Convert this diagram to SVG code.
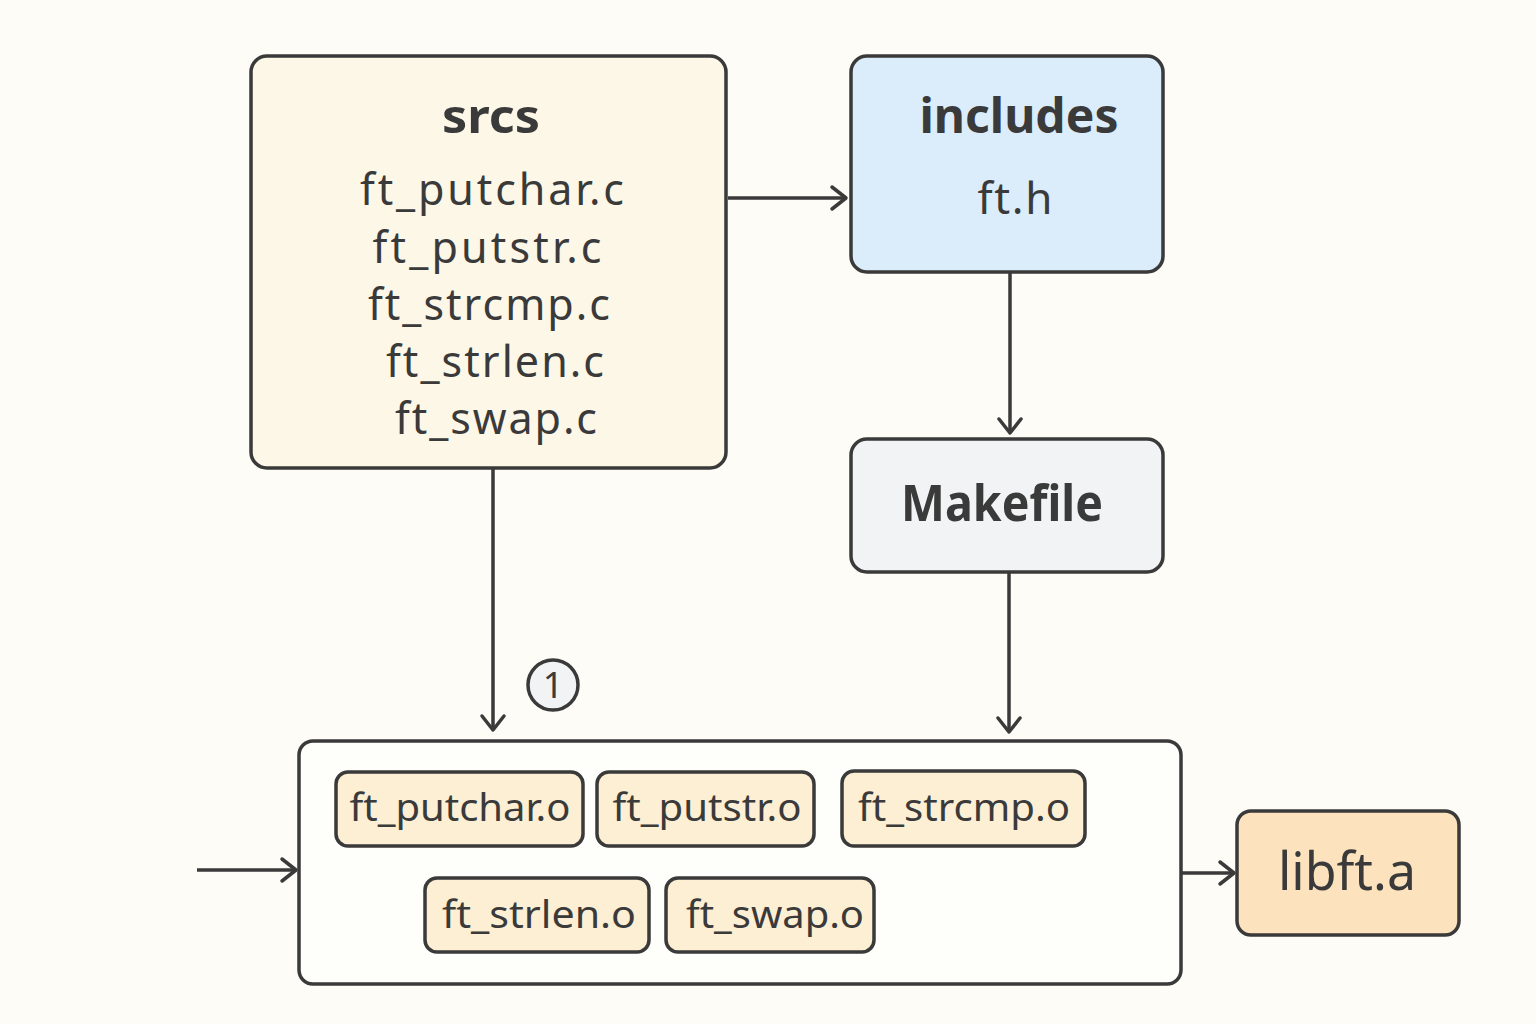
<svg xmlns="http://www.w3.org/2000/svg" width="1536" height="1024" viewBox="0 0 1536 1024">
<style>
.box{stroke:#3a3a3a;stroke-width:3.5}
.t{font-family:"Noto Sans","DejaVu Sans",sans-serif;fill:#3a3a3a;text-anchor:middle}
.b{font-weight:bold}
.c{fill:none;stroke:#3a3a3a;stroke-width:3.5}
</style>
<defs>
<marker id="ah" viewBox="0 0 22 28" refX="19" refY="14" markerWidth="22" markerHeight="28" markerUnits="userSpaceOnUse" orient="auto">
<path d="M5,3 L19,14 L5,25" fill="none" stroke="#3a3a3a" stroke-width="3.5" stroke-linecap="round" stroke-linejoin="round"/>
</marker>
</defs>
<rect width="1536" height="1024" fill="#fdfcf6"/>
<g id="connectors">
<line class="c" x1="728" y1="198" x2="846" y2="198" marker-end="url(#ah)"/>
<line class="c" x1="1010" y1="273" x2="1010" y2="433" marker-end="url(#ah)"/>
<line class="c" x1="493" y1="469" x2="493" y2="730" marker-end="url(#ah)"/>
<line class="c" x1="1009" y1="573" x2="1009" y2="732" marker-end="url(#ah)"/>
<line class="c" x1="197" y1="870" x2="296" y2="870" marker-end="url(#ah)"/>
<line class="c" x1="1182" y1="873" x2="1234" y2="873" marker-end="url(#ah)"/>
</g>
<g id="srcs">
<rect class="box" x="251" y="56" width="475" height="412" rx="16" fill="#fdf7e8"/>
<text class="t b" x="491" y="133" font-size="46" textLength="98" lengthAdjust="spacingAndGlyphs">srcs</text>
<text class="t" x="492" y="205" font-size="43" textLength="264" lengthAdjust="spacing">ft_putchar.c</text>
<text class="t" x="487" y="263" font-size="43" textLength="229" lengthAdjust="spacing">ft_putstr.c</text>
<text class="t" x="489" y="320" font-size="43" textLength="242" lengthAdjust="spacing">ft_strcmp.c</text>
<text class="t" x="495" y="377" font-size="43" textLength="218" lengthAdjust="spacing">ft_strlen.c</text>
<text class="t" x="496" y="434" font-size="43" textLength="202" lengthAdjust="spacing">ft_swap.c</text>
</g>
<g id="includes">
<rect class="box" x="851" y="56" width="312" height="216" rx="16" fill="#dbecfb"/>
<text class="t b" x="1019" y="133" font-size="48" textLength="199" lengthAdjust="spacingAndGlyphs">includes</text>
<text class="t" x="1015" y="214" font-size="44" textLength="75" lengthAdjust="spacing">ft.h</text>
</g>
<g id="makefile">
<rect class="box" x="851" y="439" width="312" height="133" rx="16" fill="#f1f3f4"/>
<text class="t b" x="1002" y="521" font-size="50" textLength="202" lengthAdjust="spacingAndGlyphs">Makefile</text>
</g>
<g id="objects">
<rect class="box" x="299" y="741" width="882" height="243" rx="14" fill="#fefefa"/>
</g>
<g id="o1"><rect class="box" x="336" y="772" width="247" height="74" rx="12" fill="#fdefd3"/><text class="t" x="460" y="821" font-size="38" textLength="221" lengthAdjust="spacingAndGlyphs">ft_putchar.o</text></g>
<g id="o2"><rect class="box" x="597" y="772" width="217" height="74" rx="12" fill="#fdefd3"/><text class="t" x="707" y="821" font-size="38" textLength="189" lengthAdjust="spacingAndGlyphs">ft_putstr.o</text></g>
<g id="o3"><rect class="box" x="842" y="771" width="243" height="75" rx="12" fill="#fdefd3"/><text class="t" x="964" y="821" font-size="38" textLength="212" lengthAdjust="spacingAndGlyphs">ft_strcmp.o</text></g>
<g id="o4"><rect class="box" x="425" y="878" width="224" height="74" rx="12" fill="#fdefd3"/><text class="t" x="539" y="928" font-size="38" textLength="194" lengthAdjust="spacingAndGlyphs">ft_strlen.o</text></g>
<g id="o5"><rect class="box" x="666" y="878" width="208" height="74" rx="12" fill="#fdefd3"/><text class="t" x="775" y="928" font-size="38" textLength="178" lengthAdjust="spacingAndGlyphs">ft_swap.o</text></g>
<g id="libft">
<rect class="box" x="1237" y="811" width="222" height="124" rx="14" fill="#fce3bd"/>
<text class="t" x="1347" y="890" font-size="52" textLength="138" lengthAdjust="spacingAndGlyphs">libft.a</text>
</g>
<g id="step1">
<circle cx="553" cy="685" r="25" fill="#f1f3f4" stroke="#3a3a3a" stroke-width="3.5"/>
<text class="t" x="553" y="698" font-size="36">1</text>
</g>
</svg>
